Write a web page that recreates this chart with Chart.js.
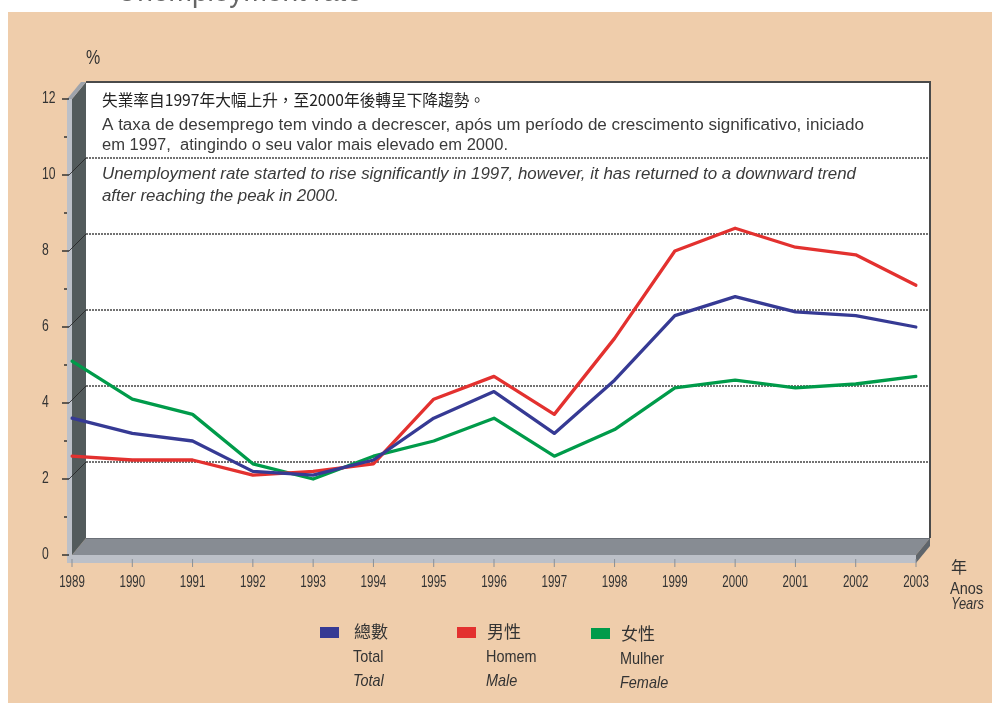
<!DOCTYPE html>
<html>
<head>
<meta charset="utf-8">
<script src="https://cdn.jsdelivr.net/npm/chart.js@4.4.0/dist/chart.umd.min.js"></script>
<style>
  html, body { margin: 0; padding: 0; background: #ffffff; }
  canvas { display: block; }
</style>
</head>
<body>
<canvas id="chart" width="992" height="711"></canvas>
<script>
// 年份
const years = ['1989', '1990', '1991', '1992', '1993', '1994', '1995', '1996', '1997', '1998', '1999', '2000', '2001', '2002', '2003'];

// 失業率 (%)
const totalRate  = [3.6, 3.2, 3.0, 2.2, 2.1, 2.5, 3.6, 4.3, 3.2, 4.6, 6.3, 6.8, 6.4, 6.3, 6.0];
const maleRate   = [2.6, 2.5, 2.5, 2.1, 2.2, 2.4, 4.1, 4.7, 3.7, 5.7, 8.0, 8.6, 8.1, 7.9, 7.1];
const femaleRate = [5.1, 4.1, 3.7, 2.4, 2.0, 2.6, 3.0, 3.6, 2.6, 3.3, 4.4, 4.6, 4.4, 4.5, 4.7];

// 刻度
const yTicks = [0, 2, 4, 6, 8, 10, 12];
const yMinorTicks = [1, 3, 5, 7, 9, 11];

// 圖例
const legendZh = ['總數', '男性', '女性'];
const legendPt = ['Total', 'Homem', 'Mulher'];
const legendEn = ['Total', 'Male', 'Female'];
const seriesColors = ['#363a94', '#e3312f', '#009b4a'];

// 說明文字
const noteZh = '失業率自1997年大幅上升，至2000年後轉呈下降趨勢。';
const notePt = ['A taxa de desemprego tem vindo a decrescer, após um período de crescimento significativo, iniciado',
                'em 1997,  atingindo o seu valor mais elevado em 2000.'];
const noteEn = ['Unemployment rate started to rise significantly in 1997, however, it has returned to a downward trend',
                'after reaching the peak in 2000.'];

const SANS = "'Liberation Sans', Arial, sans-serif";
const CJK = "'Noto Sans CJK TC', 'Noto Sans CJK SC', sans-serif";

// 3D 深度偏移
const DX = 14, DY = -17;

// 按目標寬度水平縮放文字
function fitText(ctx, text, x, y, w) {
    const m = ctx.measureText(text).width;
    ctx.save();
    ctx.translate(x, y);
    ctx.scale(w / m, 1);
    ctx.fillText(text, 0, 0);
    ctx.restore();
}

// 窄體文字
function narrowText(ctx, text, x, y, k) {
    ctx.save();
    ctx.translate(x, y);
    ctx.scale(k || 0.82, 1);
    ctx.fillText(text, 0, 0);
    ctx.restore();
}

function poly(ctx, pts, fill) {
    ctx.beginPath();
    ctx.moveTo(pts[0][0], pts[0][1]);
    for (let i = 1; i < pts.length; i++) ctx.lineTo(pts[i][0], pts[i][1]);
    ctx.closePath();
    ctx.fillStyle = fill;
    ctx.fill();
}

// 背景、牆面、地面、刻度、文字
const decorPlugin = {
    id: 'decor',
    beforeDatasetsDraw(chart) {
        const ctx = chart.ctx;
        const xs = chart.scales.x, ys = chart.scales.y;
        const x0 = xs.getPixelForValue(0);
        const xN = xs.getPixelForValue(years.length - 1);
        const yTop = ys.getPixelForValue(12);
        const yBot = ys.getPixelForValue(0);

        ctx.save();
        // 頁面背景
        ctx.fillStyle = '#ffffff';
        ctx.fillRect(0, 0, chart.width, chart.height);
        ctx.fillStyle = '#666';
        ctx.font = '32px ' + SANS;
        ctx.textBaseline = 'alphabetic';
        fitText(ctx, 'Unemployment rate', 117, 1, 245);
        ctx.fillStyle = '#efcdab';
        ctx.fillRect(8, 12, 984, 691);

        // 後牆
        ctx.fillStyle = '#ffffff';
        ctx.fillRect(x0 + DX, yTop + DY, xN - x0, yBot - yTop);
        ctx.strokeStyle = '#4a4a4a';
        ctx.lineWidth = 2;
        ctx.beginPath();
        ctx.moveTo(x0 + DX, yTop + DY);
        ctx.lineTo(xN + DX, yTop + DY);
        ctx.lineTo(xN + DX, yBot + DY);
        ctx.stroke();

        // 網格線 (虛線)
        ctx.strokeStyle = '#444';
        ctx.lineWidth = 1.4;
        ctx.setLineDash([2, 1]);
        yTicks.forEach(v => {
            if (v === 0 || v === 12) return;
            const y = ys.getPixelForValue(v) + DY;
            ctx.beginPath();
            ctx.moveTo(x0 + DX, y);
            ctx.lineTo(xN + DX, y);
            ctx.stroke();
        });
        ctx.setLineDash([]);

        // 說明文字
        ctx.fillStyle = '#222';
        ctx.textBaseline = 'middle';
        ctx.font = '16px ' + CJK;
        fitText(ctx, noteZh, 102, 100, 383);
        ctx.fillStyle = '#3a3a3a';
        ctx.font = '16px ' + SANS;
        fitText(ctx, notePt[0], 102, 126, 762);
        fitText(ctx, notePt[1], 102, 146, 406);
        ctx.font = 'italic 16px ' + SANS;
        fitText(ctx, noteEn[0], 102, 175, 754);
        fitText(ctx, noteEn[1], 102, 197, 237);

        // 地面
        poly(ctx, [[x0, yBot], [xN, yBot], [xN + DX, yBot + DY], [x0 + DX, yBot + DY]], '#878c93');
        ctx.strokeStyle = '#6b7077';
        ctx.lineWidth = 1;
        ctx.beginPath();
        ctx.moveTo(x0 + DX, yBot + DY + 0.5);
        ctx.lineTo(xN + DX, yBot + DY + 0.5);
        ctx.stroke();
        ctx.fillStyle = '#bcc0c8';
        ctx.fillRect(x0 - 5, yBot, xN - x0 + 5, 8);
        poly(ctx, [[xN, yBot], [xN + DX, yBot + DY], [xN + DX, yBot + DY + 8], [xN, yBot + 8]], '#5f656b');

        // 左牆
        poly(ctx, [[x0, yTop], [x0 + DX, yTop + DY], [x0 + DX, yBot + DY], [x0, yBot]], '#535b5c');
        ctx.fillStyle = '#bcc0c8';
        ctx.fillRect(x0 - 5, yTop, 5, yBot - yTop);
        poly(ctx, [[x0 - 5, yTop], [x0 - 5 + DX, yTop + DY], [x0 + DX, yTop + DY], [x0, yTop]], '#9ea3ab');

        // 左牆連接線
        ctx.strokeStyle = '#222';
        ctx.lineWidth = 0.8;
        yTicks.forEach(v => {
            if (v === 0 || v === 12) return;
            const y = ys.getPixelForValue(v);
            ctx.beginPath();
            ctx.moveTo(x0 - 3, y);
            ctx.lineTo(x0 + DX, y + DY);
            ctx.stroke();
        });

        // Y 軸刻度與標籤
        ctx.strokeStyle = '#333';
        ctx.lineWidth = 1.5;
        ctx.fillStyle = '#333';
        ctx.font = '16px ' + SANS;
        ctx.textAlign = 'left';
        ctx.textBaseline = 'middle';
        yTicks.forEach(v => {
            const y = ys.getPixelForValue(v);
            ctx.beginPath();
            ctx.moveTo(62, y);
            ctx.lineTo(69, y);
            ctx.stroke();
            narrowText(ctx, String(v), 42, y, 0.76);
        });
        yMinorTicks.forEach(v => {
            const y = ys.getPixelForValue(v);
            ctx.beginPath();
            ctx.moveTo(64, y);
            ctx.lineTo(67, y);
            ctx.stroke();
        });
        ctx.font = '20px ' + SANS;
        narrowText(ctx, '%', 86, 58, 0.8);

        // X 軸刻度與標籤
        ctx.strokeStyle = '#8a8f96';
        ctx.lineWidth = 1;
        ctx.textAlign = 'center';
        ctx.font = '16px ' + SANS;
        years.forEach((yr, i) => {
            const x = xs.getPixelForValue(i);
            ctx.beginPath();
            ctx.moveTo(x, yBot + 4);
            ctx.lineTo(x, yBot + 12);
            ctx.stroke();
            narrowText(ctx, yr, x, 583, 0.72);
        });

        // 單位
        ctx.textAlign = 'left';
        ctx.font = '16px ' + CJK;
        ctx.fillText('年', 951, 567);
        ctx.font = '16px ' + SANS;
        fitText(ctx, 'Anos', 950, 590, 33);
        ctx.font = 'italic 16px ' + SANS;
        fitText(ctx, 'Years', 951, 605, 33);

        // 圖例
        const swX = [320, 457, 591];
        const txX = [354, 487, 621];
        legendZh.forEach((zh, i) => {
            const off = i === 2 ? 2 : 0;
            ctx.fillStyle = seriesColors[i];
            ctx.fillRect(swX[i], 627 + off / 2, 19, 11);
            ctx.fillStyle = '#333';
            ctx.font = '17px ' + CJK;
            ctx.fillText(zh, txX[i], 632 + off);
            ctx.font = '17px ' + SANS;
            narrowText(ctx, legendPt[i], txX[i] - 1, 657 + off, 0.85);
            ctx.font = 'italic 17px ' + SANS;
            narrowText(ctx, legendEn[i], txX[i] - 1, 681 + off, 0.85);
        });
        ctx.restore();
    }
};

new Chart(document.getElementById('chart'), {
    type: 'line',
    data: {
        labels: years,
        datasets: [
            { label: legendZh[0], data: totalRate, borderColor: seriesColors[0] },
            { label: legendZh[1], data: maleRate, borderColor: seriesColors[1] },
            { label: legendZh[2], data: femaleRate, borderColor: seriesColors[2] }
        ].map(d => Object.assign(d, { borderWidth: 3.3, pointRadius: 0, tension: 0, fill: false, borderJoinStyle: 'round', borderCapStyle: 'round' }))
    },
    options: {
        responsive: false,
        animation: false,
        layout: { padding: { left: 72, right: 76, top: 99, bottom: 156 } },
        scales: {
            x: { display: false, offset: false },
            y: { display: false, min: 0, max: 12 }
        },
        plugins: {
            legend: { display: false },
            tooltip: { enabled: false }
        }
    },
    plugins: [decorPlugin]
});
</script>
</body>
</html>
